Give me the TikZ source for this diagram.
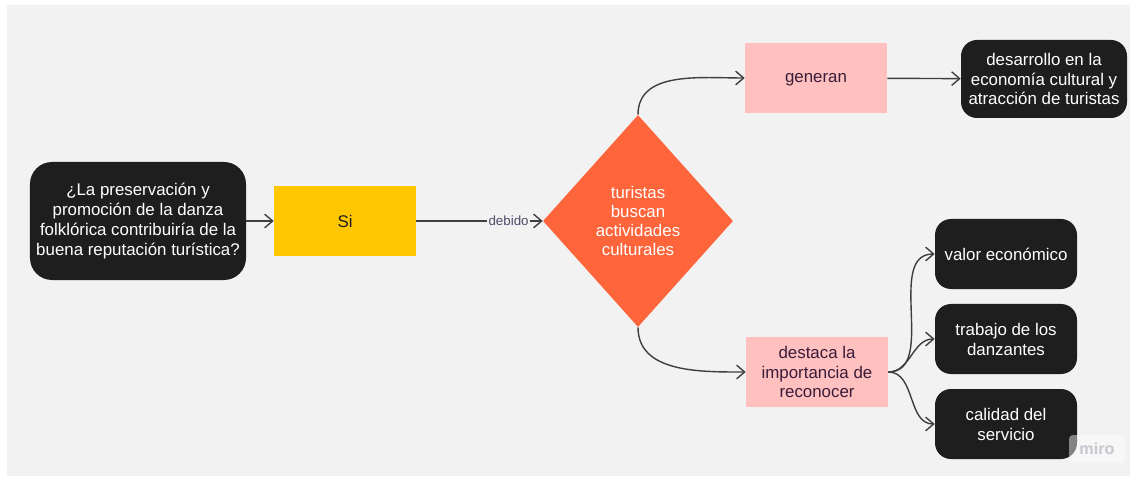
\documentclass[tikz,border=0pt]{standalone}
\usepackage{fontspec}
\setmainfont{Liberation Sans}
\usepackage{xcolor}
\usetikzlibrary{shapes.geometric}
\usetikzlibrary{arrows.meta}
\definecolor{lienzo}{HTML}{F2F2F2}
\definecolor{negro}{HTML}{1E1E1E}
\definecolor{amarillo}{HTML}{FFC700}
\definecolor{naranja}{HTML}{FF653B}
\definecolor{rosa}{HTML}{FFC0C0}
\definecolor{morado}{HTML}{3A1C38}
\definecolor{linea}{HTML}{3F3F3F}
\definecolor{azulgris}{HTML}{4B4B68}
\definecolor{marca}{HTML}{C6C6CE}
\def\letra{\fontsize{12}{14.2}\selectfont}

\tikzset{
	caja/.style={minimum width=35.5mm, minimum height=17.5mm, inner sep=1mm, align=center, font=\letra},
	negra/.style={caja, fill=negro, text=white, rounded corners=4mm},
	rosada/.style={caja, fill=rosa, text=morado},
	flecha/.style={->, color=linea, line width=0.35mm},
}

\begin{document}
\begin{tikzpicture}[x=0.25mm, y=0.25mm, >={Straight Barb[length=2mm,width=3.4mm]}]
	\useasboundingbox (0,0) rectangle (1136,-478);
	\fill[white] (0,0) rectangle (1136,-478);
	\fill[lienzo] (7,-5) rectangle (1130,-476);
	%\draw[step=50, very thin, black!20] (0,0) grid (1136,-478);
	\node[negra, minimum width=54mm, minimum height=29.5mm, rounded corners=5.5mm] (pregunta) at (138,-221)
		{¿La preservación y\\promoción de la danza\\folklórica contribuiría de la\\buena reputación turística?};
	\node[caja, fill=amarillo, text=negro] (si) at (345,-221){Si};
	\node[shape=diamond, fill=naranja, text=white, minimum width=47.5mm, minimum height=53mm, inner sep=0pt, align=center, font=\fontsize{12}{13.5}\selectfont] (turistas) at (638,-221)
		{turistas\\buscan\\actividades\\culturales};
	\node[rosada, text depth=0pt] (generan) at (816,-78){generan};
	\node[negra, minimum width=41.5mm, minimum height=19.5mm] (desarrollo) at (1044,-79)
		{desarrollo en la\\economía cultural y\\atracción de turistas};
	\node[rosada] (destaca) at (817,-372){destaca la\\importancia de\\reconocer};
	\node[negra] (valor) at (1006,-254){valor económico};
	\node[negra] (trabajo) at (1006,-339){trabajo de los\\danzantes};
	\node[negra] (calidad) at (1006,-424){calidad del\\servicio};
	\draw[flecha] (pregunta) -- (si);
	\draw[flecha] (si) -- node[pos=0.73, fill=lienzo, text=azulgris, inner sep=1pt, font=\fontsize{9.5}{11}\selectfont]{debido} (turistas);
	\draw[flecha] (turistas.north) to[out=90, in=180] (generan.west);
	\draw[flecha] (turistas.south) to[out=-90, in=180] (destaca.west);
	\draw[flecha] (generan) -- (desarrollo);
	\foreach \destino in {valor, trabajo, calidad}
		\draw[flecha] (destaca.east) to[out=0, in=180] (\destino.west);
	\node[fill=white, fill opacity=0.45, text opacity=1, text=marca, rounded corners=1mm, minimum width=14mm, minimum height=7mm, font=\bfseries\fontsize{11.5}{12}\selectfont] (miro) at (1097,-449){miro};
\end{tikzpicture}
\end{document}
